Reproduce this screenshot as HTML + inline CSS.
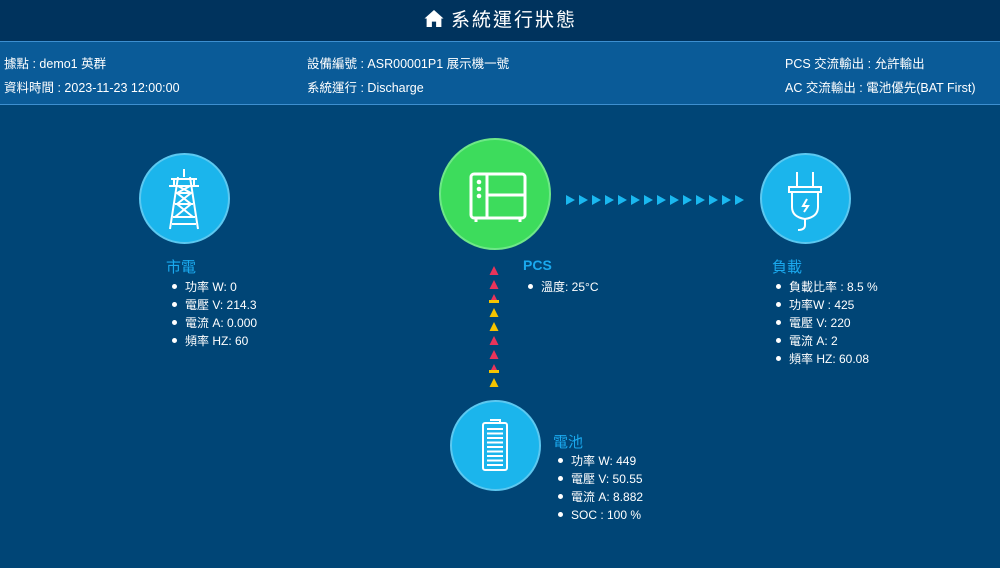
<!DOCTYPE html>
<html><head><meta charset="utf-8"><style>
*{margin:0;padding:0;box-sizing:border-box}
body{width:1000px;height:568px;background:#004576;font-family:"Liberation Sans","Noto Sans CJK TC",sans-serif;color:#fff;position:relative;overflow:hidden}
.hd{position:absolute;left:0;top:0;width:1000px;height:41px;background:#00335d;text-align:center;font-size:19px;line-height:41px;letter-spacing:2px}
.info{position:absolute;left:0;top:41px;width:1000px;height:64px;background:#0a5b98;border-top:1px solid #3d8fd0;border-bottom:1px solid #3d8fd0;font-size:12.5px}
.info span{position:absolute}
.c{position:absolute;border-radius:50%;background:#1bb5ec;border:2px solid #5cc8f0}
.t{position:absolute;font-size:15px;color:#1aa9ee}
ul{position:absolute;list-style:none;font-size:12px;line-height:18px}
ul li::before{content:"";display:inline-block;width:5px;height:5px;border-radius:50%;background:#fff;margin:0 8px 2px 0;vertical-align:middle}
.a{position:absolute}
</style></head><body>
<div class="hd"><svg width="22" height="19" viewBox="0 0 20 18" style="vertical-align:-2px;margin-right:6px"><path d="M10 1 L1 9 L3 9 L3 17 L8 17 L8 12 L12 12 L12 17 L17 17 L17 9 L19 9 Z" fill="#fff"/></svg>系統運行狀態</div>
<div class="info">
<span style="left:4px;top:11px">據點 : demo1 英群</span>
<span style="left:4px;top:35px">資料時間 : 2023-11-23 12:00:00</span>
<span style="left:307px;top:11px">設備編號 : ASR00001P1 展示機一號</span>
<span style="left:307px;top:35px">系統運行 : Discharge</span>
<span style="left:785px;top:11px">PCS 交流輸出 : 允許輸出</span>
<span style="left:785px;top:35px">AC 交流輸出 : 電池優先(BAT First)</span>
</div>

<div class="c" style="left:139px;top:153px;width:91px;height:91px">
<svg width="87" height="87" viewBox="0 0 87 87"><g stroke="#fff" stroke-width="2" fill="none"><path d="M43 14 V22 M30 24 H56 M28 31 H58 M33 24 V31 M53 24 V31 M37 22 L29 74 M49 22 L57 74 M35 38 H51 M34 49 H52 M32 62 H54 M31 69 H55 M37 31 L50 38 L36 49 L52 62 M49 31 L36 38 L50 49 L34 62"/></g></svg></div>
<div class="c" style="left:439px;top:138px;width:112px;height:112px;background:#3ddc5c;border-color:#6ee887">
<svg width="108" height="108" viewBox="0 0 108 108"><g stroke="#fff" stroke-width="3" fill="none"><rect x="30" y="34" width="54" height="44" rx="3"/><path d="M46 34 V78 M46 55 H84 M35 78 V82 M79 78 V82"/></g><g fill="#fff"><circle cx="38" cy="42" r="2.3"/><circle cx="38" cy="49" r="2.3"/><circle cx="38" cy="56" r="2.3"/></g></svg></div>
<div class="c" style="left:760px;top:153px;width:91px;height:91px">
<svg width="87" height="87" viewBox="0 0 87 87"><g stroke="#fff" stroke-width="2" fill="none"><path d="M35 17 V32 M51 17 V32 M27 32 H59 V37 H27 Z M30 37 V52 Q30 62 43 64 Q56 62 56 52 V37 M43 64 V70 Q43 75 36 75 M45 44 L41 51 H46 L42 57"/></g></svg></div>
<div class="c" style="left:450px;top:400px;width:91px;height:91px">
<svg width="87" height="87" viewBox="0 0 87 87"><g stroke="#fff" stroke-width="2" fill="none"><rect x="31" y="21" width="24" height="47" rx="2"/><path d="M38 18 H48 V21"/></g><g stroke="#fff" stroke-width="2"><path d="M35 27 H51 M35 31.5 H51 M35 36 H51 M35 40.5 H51 M35 45 H51 M35 49.5 H51 M35 54 H51 M35 58.5 H51 M35 63 H51"/></g></svg></div>

<div class="t" style="left:166px;top:256px">市電</div>
<ul style="left:172px;top:278px"><li>功率 W: 0</li><li>電壓 V: 214.3</li><li>電流 A: 0.000</li><li>頻率 HZ: 60</li></ul>
<div class="t" style="left:523px;top:257px;font-weight:bold;font-size:14px">PCS</div>
<ul style="left:528px;top:278px"><li>溫度: 25°C</li></ul>
<div class="t" style="left:772px;top:256px">負載</div>
<ul style="left:776px;top:278px"><li>負載比率 : 8.5 %</li><li>功率W : 425</li><li>電壓 V: 220</li><li>電流 A: 2</li><li>頻率 HZ: 60.08</li></ul>
<div class="t" style="left:553px;top:431px">電池</div>
<ul style="left:558px;top:452px"><li>功率 W: 449</li><li>電壓 V: 50.55</li><li>電流 A: 8.882</li><li>SOC : 100 %</li></ul>

<svg class="a" style="left:560px;top:190px" width="200" height="20">
<g fill="#1ab8f0">
<path d="M6 5 L15 10 L6 15Z"/><path d="M19 5 L28 10 L19 15Z"/><path d="M32 5 L41 10 L32 15Z"/><path d="M45 5 L54 10 L45 15Z"/><path d="M58 5 L67 10 L58 15Z"/><path d="M71 5 L80 10 L71 15Z"/><path d="M84 5 L93 10 L84 15Z"/><path d="M97 5 L106 10 L97 15Z"/><path d="M110 5 L119 10 L110 15Z"/><path d="M123 5 L132 10 L123 15Z"/><path d="M136 5 L145 10 L136 15Z"/><path d="M149 5 L158 10 L149 15Z"/><path d="M162 5 L171 10 L162 15Z"/><path d="M175 5 L184 10 L175 15Z"/></g></svg>
<svg class="a" style="left:484px;top:262px" width="20" height="130">
<path d="M10 4 L14.5 13 L5.5 13Z" fill="#e8345a"/>
<path d="M10 18 L14.5 27 L5.5 27Z" fill="#e8345a"/>
<path d="M10 32 L14.5 41 L5.5 41Z" fill="#e8345a"/><rect x="5" y="38" width="10" height="3" fill="#f5c400"/>
<path d="M10 46 L14.5 55 L5.5 55Z" fill="#f5c400"/>
<path d="M10 60 L14.5 69 L5.5 69Z" fill="#f5c400"/>
<path d="M10 74 L14.5 83 L5.5 83Z" fill="#e8345a"/>
<path d="M10 88 L14.5 97 L5.5 97Z" fill="#e8345a"/>
<path d="M10 102 L14.5 111 L5.5 111Z" fill="#e8345a"/><rect x="5" y="108" width="10" height="3" fill="#f5c400"/>
<path d="M10 116 L14.5 125 L5.5 125Z" fill="#f5c400"/>
</svg>
</body></html>
